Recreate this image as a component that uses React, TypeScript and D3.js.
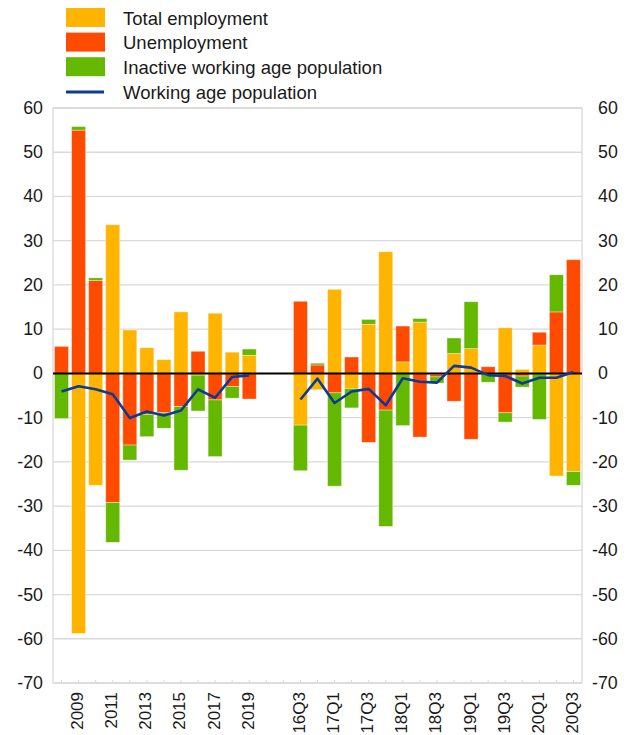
import * as d3 from "d3"

// categories: annual 2008-2019, two empty slots, then quarters 16Q3-20Q3
const categories = [
  "2008", "2009", "2010", "2011", "2012", "2013", "2014", "2015", "2016", "2017", "2018", "2019",
  "gap1", "gap2",
  "16Q3", "16Q4", "17Q1", "17Q2", "17Q3", "17Q4", "18Q1", "18Q2", "18Q3", "18Q4",
  "19Q1", "19Q2", "19Q3", "19Q4", "20Q1", "20Q2", "20Q3",
]

const xLabels = [
  "2009", "2011", "2013", "2015", "2017", "2019",
  "16Q3", "17Q1", "17Q3", "18Q1", "18Q3", "19Q1", "19Q3", "20Q1", "20Q3",
]

const employment = [
  0, -58.8, -25.3, 33.6, 9.8, 5.8, 3.1, 13.9, -0.4, 13.6, 4.8, 4.1,
  null, null,
  -11.7, -3.7, 19.0, -3.4, 11.1, 27.5, 2.6, 11.6, -0.2, 4.5, 5.6, 0, 10.3, 0.9, 6.4, -23.2, -22.2,
]
const unemployment = [
  6.1, 55.0, 21.0, -29.2, -16.2, -9.3, -8.9, -7.5, 5.0, -6.0, -3.0, -5.8,
  null, null,
  16.3, 1.9, -4.4, 3.7, -15.6, -8.3, 8.1, -14.4, -0.6, -6.3, -14.9, 1.5, -8.9, -0.6, 2.9, 13.9, 25.7,
]
const inactive = [
  -10.2, 0.8, 0.6, -9.0, -3.4, -5.0, -3.5, -14.4, -8.1, -12.8, -2.6, 1.4,
  null, null,
  -10.3, 0.4, -21.1, -4.4, 1.1, -26.3, -11.8, 0.8, -1.4, 3.5, 10.6, -2.0, -2.1, -2.5, -10.4, 8.4, -3.1,
]
const workingAge = [
  -4.1, -2.9, -3.6, -4.7, -10.1, -8.6, -9.5, -8.4, -3.6, -5.5, -0.8, -0.45,
  null, null,
  -5.9, -1.2, -6.7, -4.1, -3.5, -7.2, -1.1, -1.9, -2.1, 1.7, 1.3, -0.4, -0.6, -2.3, -1.0, -1.0, 0.3,
]

const yTicks = [60, 50, 40, 30, 20, 10, 0, -10, -20, -30, -40, -50, -60, -70]

const keys = ["employment", "unemployment", "inactive"]
const colors: Record<string, string> = {
  employment: "#FFB400",
  unemployment: "#FF4B00",
  inactive: "#65B800",
}
const legendItems = [
  { label: "Total employment", color: colors.employment },
  { label: "Unemployment", color: colors.unemployment },
  { label: "Inactive working age population", color: colors.inactive },
]
const lineColor = "#0D3A94"

export default function App() {
  const W = 637
  const H = 735
  const left = 53
  const right = 582
  const top = 108
  const bottom = 683
  const font = "Arial, 'Liberation Sans', sans-serif"

  const x = d3.scaleBand<string>().domain(categories).range([left, right]).paddingInner(0.18).paddingOuter(0.09)
  const y = d3.scaleLinear().domain([-70, 60]).range([bottom, top])

  const rows = categories.map((c, i) => ({
    cat: c,
    employment: employment[i] ?? 0,
    unemployment: unemployment[i] ?? 0,
    inactive: inactive[i] ?? 0,
    gap: employment[i] == null,
  }))
  const stacked = d3.stack<any>().keys(keys).offset(d3.stackOffsetDiverging)(rows)

  const line = d3
    .line<number | null>()
    .defined((d) => d != null)
    .x((_, i) => (x(categories[i]) ?? 0) + x.bandwidth() / 2)
    .y((d) => y(d as number))

  const cx = (c: string) => (x(c) ?? 0) + x.bandwidth() / 2

  return (
    <svg width={W} height={H} style={{ position: "absolute", left: 0, top: 0, background: "#fff" }} fontFamily={font}>
      {/* legend */}
      {legendItems.map((d, i) => (
        <g key={d.label}>
          <rect x={66} y={8 + i * 24.6} width={39} height={19} fill={d.color} />
          <text x={123} y={18 + i * 24.6} dominantBaseline="central" fontSize={18.5} fill="#1a1a1a">
            {d.label}
          </text>
        </g>
      ))}
      <line x1={66} x2={104} y1={92} y2={92} stroke={lineColor} strokeWidth={3} />
      <text x={123} y={92.5} dominantBaseline="central" fontSize={18.5} fill="#1a1a1a">
        Working age population
      </text>

      {/* grid */}
      {yTicks.map((t) => (
        <line key={t} x1={left} x2={right} y1={y(t)} y2={y(t)} stroke="#d9d9d9" strokeWidth={1.3} />
      ))}
      <rect x={left} y={top} width={right - left} height={bottom - top} fill="none" stroke="#d9d9d9" strokeWidth={1.3} />

      {/* x ticks */}
      {categories.map((c) => (
        <line key={c} x1={cx(c)} x2={cx(c)} y1={bottom} y2={bottom - 3} stroke="#d9d9d9" strokeWidth={1} />
      ))}

      {/* bars */}
      {stacked.map((s) => (
        <g key={s.key} fill={colors[s.key]}>
          {s
            .filter((d) => !d.data.gap && d[1] !== d[0])
            .map((d) => (
              <rect
                key={d.data.cat}
                x={x(d.data.cat)}
                width={x.bandwidth()}
                y={y(Math.max(d[0], d[1]))}
                height={Math.abs(y(d[0]) - y(d[1]))}
                stroke="#ffffff"
                strokeOpacity={0.45}
                strokeWidth={0.8}
              />
            ))}
        </g>
      ))}

      {/* zero line */}
      <line x1={left} x2={right} y1={y(0)} y2={y(0)} stroke="#000" strokeWidth={2} />

      {/* working age population */}
      <path d={line(workingAge) ?? ""} fill="none" stroke={lineColor} strokeWidth={2.6} strokeLinejoin="round" />

      {/* y axes */}
      {yTicks.map((t) => (
        <g key={t} fontSize={17.8} fill="#1a1a1a">
          <text x={43} y={y(t)} textAnchor="end" dominantBaseline="central">
            {t}
          </text>
          <text x={t < 0 ? 592 : 598} y={y(t)} dominantBaseline="central">
            {t}
          </text>
        </g>
      ))}

      {/* x labels */}
      {xLabels.map((l) => (
        <text
          key={l}
          transform={`translate(${cx(l) - 1},${692}) rotate(-90)`}
          textAnchor="end"
          dominantBaseline="central"
          fontSize={17}
          fill="#1a1a1a"
        >
          {l}
        </text>
      ))}
    </svg>
  )
}
